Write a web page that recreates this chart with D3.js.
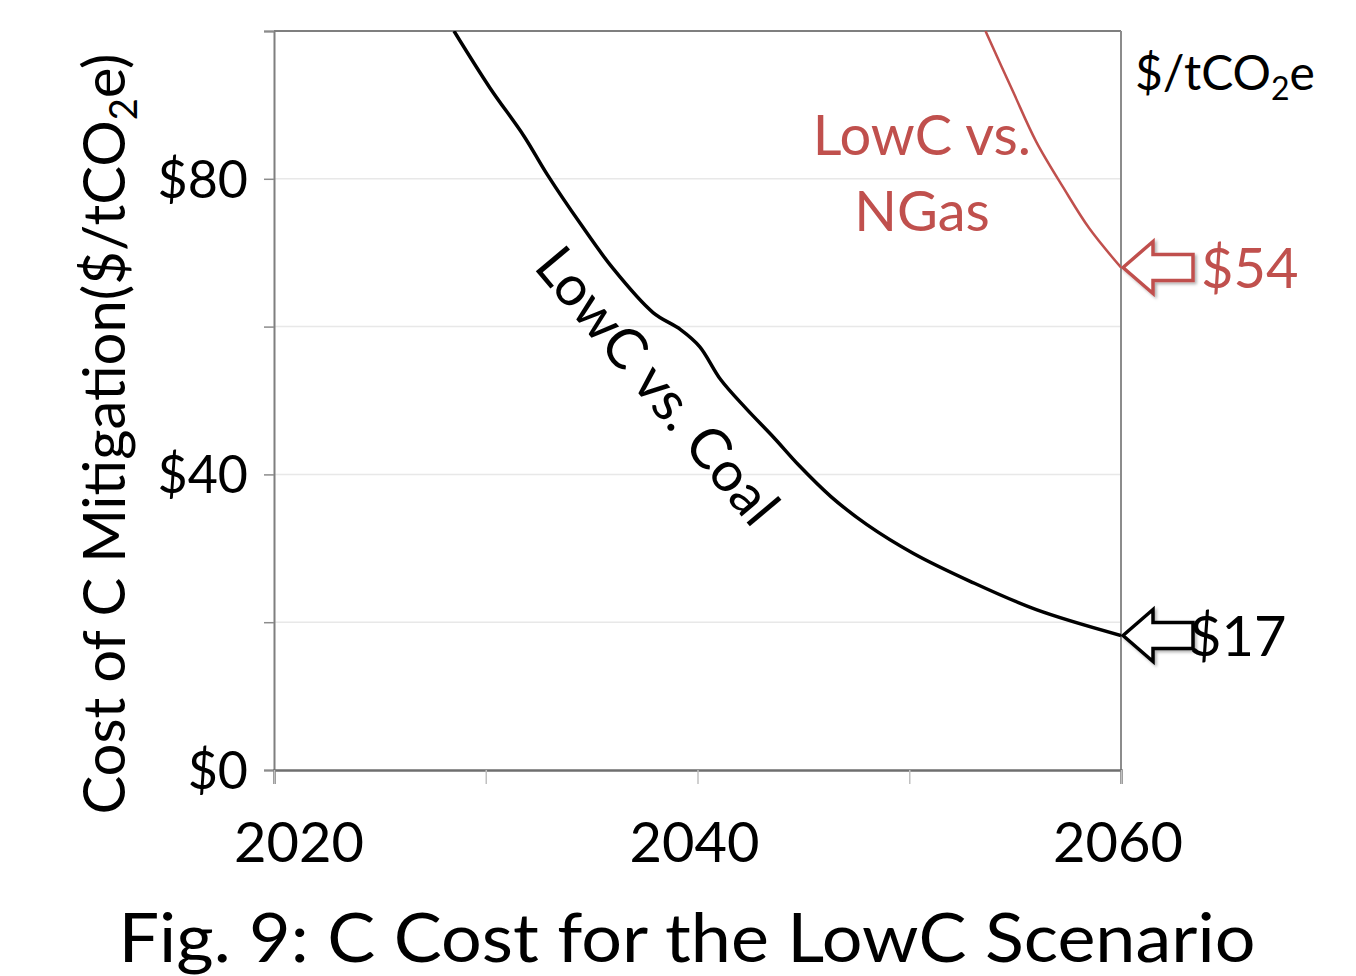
<!DOCTYPE html>
<html>
<head>
<meta charset="utf-8">
<script src="https://cdn.jsdelivr.net/npm/d3@7"></script>
<style>
  body { margin: 0; background: #fff; }
  text { font-family: Lato, "Open Sans", sans-serif; }
</style>
</head>
<body>
<div id="wrapper"></div>
<script>
// data
const coalYears = [2028.5, 2030.2, 2031.8, 2032.9, 2034.5, 2036.0, 2037.9, 2039.2, 2040.1, 2041.1, 2042.3, 2043.6, 2044.8, 2046.3, 2048.0, 2050.2, 2052.9, 2056.0, 2060]
const coalCost  = [100, 92.3, 85.8, 80.6, 73.8, 67.9, 61.9, 59.6, 57.3, 52.8, 48.9, 45.0, 41.2, 37.0, 33.2, 29.3, 25.5, 21.7, 18.2]
const ngasYears = [2053.6, 2054.9, 2056.0, 2057.3, 2058.5, 2060]
const ngasCost  = [100, 91.8, 85.0, 78.7, 73.3, 68.0]
const yTicks = [0, 20, 40, 60, 80, 100]
const yLabels = [0, 40, 80]
const xTicks = [2020, 2030, 2040, 2050, 2060]
const xLabels = [2020, 2040, 2060]

const red = "#c0504d"

const dimensions = {
  width: 1356,
  height: 976,
  margin: { top: 31, right: 235, bottom: 206, left: 274 },
}
dimensions.boundedWidth = dimensions.width - dimensions.margin.left - dimensions.margin.right
dimensions.boundedHeight = dimensions.height - dimensions.margin.top - dimensions.margin.bottom

const svg = d3.select("#wrapper").append("svg")
  .attr("width", dimensions.width)
  .attr("height", dimensions.height)

const defs = svg.append("defs")
defs.append("clipPath").attr("id", "plot-clip")
  .append("rect")
  .attr("width", dimensions.boundedWidth)
  .attr("height", dimensions.boundedHeight)
const shadow = defs.append("filter").attr("id", "shadow")
  .attr("x", "-20%").attr("y", "-20%").attr("width", "150%").attr("height", "150%")
shadow.append("feDropShadow").attr("dx", 2).attr("dy", 2).attr("stdDeviation", 1.5)
  .attr("flood-color", "#000").attr("flood-opacity", 0.3)

const bounds = svg.append("g")
  .attr("transform", `translate(${dimensions.margin.left},${dimensions.margin.top})`)

const xScale = d3.scaleLinear().domain([2020, 2060]).range([0, dimensions.boundedWidth])
const yScale = d3.scaleLinear().domain([0, 100]).range([dimensions.boundedHeight, 0])

// gridlines
bounds.selectAll(".grid").data(yTicks.filter(d => d > 0 && d < 100)).join("line")
  .attr("x1", 0).attr("x2", dimensions.boundedWidth)
  .attr("y1", d => yScale(d)).attr("y2", d => yScale(d))
  .attr("stroke", "#e8e8e8").attr("stroke-width", 1.5)

// frame: top and right
bounds.append("line")
  .attr("x1", 0).attr("x2", dimensions.boundedWidth).attr("y1", 0).attr("y2", 0)
  .attr("stroke", "#7f7f7f").attr("stroke-width", 2)
bounds.append("line")
  .attr("x1", dimensions.boundedWidth).attr("x2", dimensions.boundedWidth)
  .attr("y1", 0).attr("y2", dimensions.boundedHeight)
  .attr("stroke", "#8c8c8c").attr("stroke-width", 2)

// y axis
const yAxis = bounds.append("g")
  .call(d3.axisLeft(yScale).tickValues(yTicks).tickSize(10).tickFormat(""))
yAxis.select(".domain").attr("stroke", "#7f7f7f").attr("stroke-width", 2)
yAxis.selectAll(".tick line").attr("stroke", "#8c8c8c").attr("stroke-width", 1.5)

bounds.selectAll(".ylab").data(yLabels).join("text")
  .attr("x", -26)
  .attr("y", d => yScale(d))
  .attr("dy", "0.36em")
  .attr("text-anchor", "end")
  .attr("font-size", 52)
  .attr("fill", "#000")
  .text(d => "$" + d)

// x axis
const xAxis = bounds.append("g")
  .attr("transform", `translate(0,${dimensions.boundedHeight})`)
  .call(d3.axisBottom(xScale).tickValues(xTicks).tickSize(14).tickFormat(""))
xAxis.select(".domain").attr("stroke", "#6f6f6f").attr("stroke-width", 2.5)
xAxis.selectAll(".tick line").attr("stroke", "#c0c0c0").attr("stroke-width", 1.5)

bounds.selectAll(".xlab").data(xLabels).join("text")
  .attr("x", d => xScale(d) + (d === 2020 ? 25 : -3))
  .attr("y", dimensions.boundedHeight + 92)
  .attr("text-anchor", "middle")
  .attr("font-size", 56)
  .attr("fill", "#000")
  .text(d => d)

// lines
const line = d3.line()
  .x(d => xScale(d[0]))
  .y(d => yScale(d[1]))
  .curve(d3.curveCatmullRom.alpha(0.5))

const plot = bounds.append("g").attr("clip-path", "url(#plot-clip)")
plot.append("path")
  .datum(d3.zip(coalYears, coalCost))
  .attr("d", line)
  .attr("fill", "none").attr("stroke", "#000").attr("stroke-width", 3.5)
plot.append("path")
  .datum(d3.zip(ngasYears, ngasCost))
  .attr("d", line)
  .attr("fill", "none").attr("stroke", red).attr("stroke-width", 2.5)

// end arrows
const arrowPts = [[0, 0], [30, -26], [30, -13], [70, -13], [70, 13], [30, 13], [30, 26]]
const drawArrow = (yr, v, color) => {
  bounds.append("polygon")
    .attr("transform", `translate(${xScale(yr) + 2},${yScale(v)})`)
    .attr("points", arrowPts.map(p => p.join(",")).join(" "))
    .attr("fill", "#fff")
    .attr("stroke", color)
    .attr("stroke-width", 3.5)
    .attr("stroke-linejoin", "miter")
    .attr("filter", "url(#shadow)")
}
drawArrow(2060, coalCost[coalCost.length - 1], "#000")
drawArrow(2060, ngasCost[ngasCost.length - 1], red)

bounds.append("text")
  .attr("x", xScale(2060) + 68)
  .attr("y", yScale(coalCost[coalCost.length - 1]))
  .attr("dy", "0.36em")
  .attr("font-size", 56)
  .attr("fill", "#000")
  .text("$17")
bounds.append("text")
  .attr("x", xScale(2060) + 80)
  .attr("y", yScale(ngasCost[ngasCost.length - 1]))
  .attr("dy", "0.36em")
  .attr("font-size", 56)
  .attr("fill", red)
  .text("$54")

// in-plot labels
bounds.append("text")
  .attr("transform", `translate(${xScale(2037.4)},${yScale(50.3)}) rotate(50)`)
  .attr("text-anchor", "middle")
  .attr("font-size", 56)
  .attr("fill", "#000")
  .text("LowC vs. Coal")

const ngasLab = bounds.append("text")
  .attr("text-anchor", "middle")
  .attr("font-size", 56)
  .attr("fill", red)
ngasLab.append("tspan").attr("x", xScale(2050.6)).attr("y", yScale(83.2)).text("LowC vs.")
ngasLab.append("tspan").attr("x", xScale(2050.6)).attr("y", yScale(73)).text("NGas")

// unit label top right
const unit = svg.append("text")
  .attr("x", 1135).attr("y", 90)
  .attr("font-size", 48)
  .attr("fill", "#000")
unit.append("tspan").text("$/tCO")
unit.append("tspan").attr("font-size", 32).attr("dy", 10).text("2")
unit.append("tspan").attr("dy", -10).text("e")

// y axis title
const yTitle = svg.append("text")
  .attr("transform", `translate(125,434) rotate(-90)`)
  .attr("text-anchor", "middle")
  .attr("font-size", 58)
  .attr("fill", "#000")
yTitle.append("tspan").text("Cost of C Mitigation($/tCO")
yTitle.append("tspan").attr("font-size", 38).attr("dy", 12).text("2")
yTitle.append("tspan").attr("dy", -12).text("e)")

// figure caption
svg.append("text")
  .attr("x", 687).attr("y", 962)
  .attr("text-anchor", "middle")
  .attr("font-size", 68)
  .attr("textLength", 1137)
  .attr("lengthAdjust", "spacingAndGlyphs")
  .attr("fill", "#000")
  .text("Fig. 9: C Cost for the LowC Scenario")
</script>
</body>
</html>
